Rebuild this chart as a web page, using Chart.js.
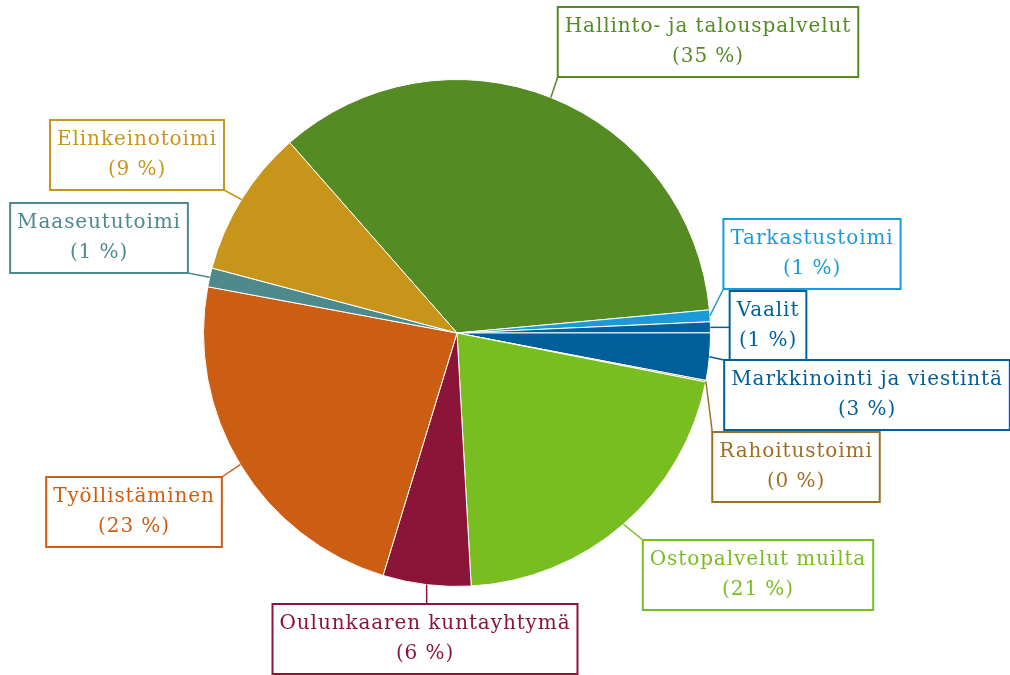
<!DOCTYPE html>
<html lang="fi">

<head>
    <meta charset="UTF-8">
    <title>Kustannukset</title>
    <script src="https://cdn.jsdelivr.net/npm/chart.js"></script>
    <style>
        body { margin: 0; background: #fff; }
        #pie { display: block; }
    </style>
</head>

<body>
    <canvas id="pie" width="1010" height="675"></canvas>

    <script>
        // === Data ===
        const labels = [
            'Hallinto- ja talouspalvelut',
            'Tarkastustoimi',
            'Vaalit',
            'Markkinointi ja viestintä',
            'Rahoitustoimi',
            'Ostopalvelut muilta',
            'Oulunkaaren kuntayhtymä',
            'Työllistäminen',
            'Maaseututoimi',
            'Elinkeinotoimi'
        ];
        const shares = [35.0, 0.75, 0.7, 3.0, 0.1, 21.0, 5.6, 23.2, 1.2, 9.4];
        const colors = ['#548b23', '#1a9ad8', '#00629d', '#005e98', '#9c7024',
            '#78be20', '#8b1538', '#cc5e13', '#4e898e', '#c8951b'];

        // label box centres (layout only)
        const boxCentres = [
            [708, 42], [812, 254], [768, 326], [867, 395], [796, 467],
            [758, 575], [425, 639], [134, 512], [99, 238], [137, 155]
        ];

        const total = shares.reduce((a, b) => a + b, 0);

        // === Plugin: boxed labels with leader lines ===
        const boxLabels = {
            id: 'boxLabels',
            afterDraw(chart) {
                const ctx = chart.ctx;
                const arcs = chart.getDatasetMeta(0).data;
                ctx.save();
                ctx.font = '20px "DejaVu Serif"';
                ctx.letterSpacing = '0.9px';
                ctx.textAlign = 'center';
                ctx.textBaseline = 'middle';
                const lineH = 30, pad = 7;

                arcs.forEach((arc, i) => {
                    const pct = Math.round(shares[i] / total * 100);
                    const lines = [labels[i], '(' + pct + ' %)'];
                    const w = Math.max(...lines.map(t => ctx.measureText(t).width)) + pad * 2;
                    const h = lineH * 2 + 10;
                    const [cx, cy] = boxCentres[i];
                    const x0 = cx - w / 2, y0 = cy - h / 2;

                    // leader line from arc edge to nearest box point
                    const p = arc.getProps(['x', 'y', 'startAngle', 'endAngle', 'outerRadius'], true);
                    const mid = (p.startAngle + p.endAngle) / 2;
                    const ax = p.x + Math.cos(mid) * p.outerRadius;
                    const ay = p.y + Math.sin(mid) * p.outerRadius;
                    const bx = Math.min(Math.max(ax, x0), x0 + w);
                    const by = Math.min(Math.max(ay, y0), y0 + h);
                    ctx.strokeStyle = colors[i];
                    ctx.lineWidth = 1.5;
                    ctx.beginPath();
                    ctx.moveTo(ax, ay);
                    ctx.lineTo(bx, by);
                    ctx.stroke();

                    ctx.fillStyle = '#fff';
                    ctx.fillRect(x0, y0, w, h);
                    ctx.lineWidth = 2;
                    ctx.strokeRect(x0, y0, w, h);

                    ctx.fillStyle = colors[i];
                    ctx.fillText(lines[0], cx, cy - lineH / 2);
                    ctx.fillText(lines[1], cx, cy + lineH / 2);
                });
                ctx.restore();
            }
        };

        new Chart(document.getElementById('pie'), {
            type: 'pie',
            data: {
                labels: labels,
                datasets: [{
                    data: shares,
                    backgroundColor: colors,
                    borderColor: '#ffffff',
                    borderWidth: 1
                }]
            },
            options: {
                responsive: false,
                animation: false,
                rotation: -41.3,
                layout: { padding: { left: 203, right: 299, top: 79, bottom: 88 } },
                plugins: {
                    legend: { display: false },
                    tooltip: { enabled: false }
                }
            },
            plugins: [boxLabels]
        });
    </script>

</body>

</html>
